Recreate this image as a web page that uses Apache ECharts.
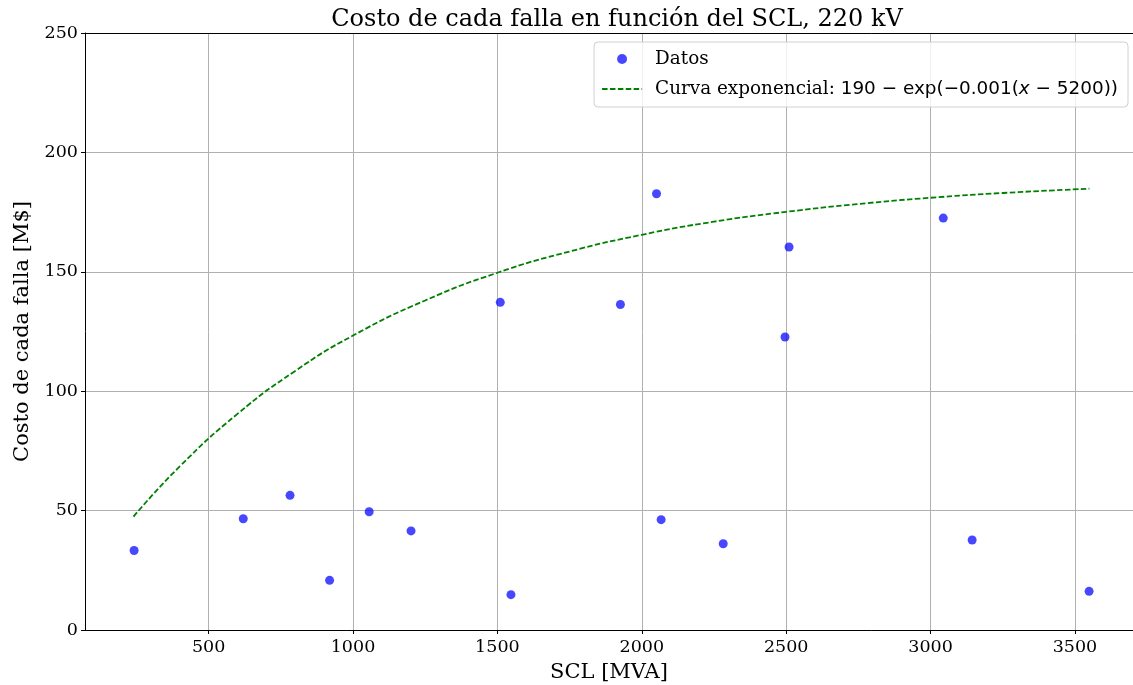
<!DOCTYPE html>
<html>
<head>
<meta charset="utf-8">
<script src="https://cdn.jsdelivr.net/npm/echarts@6/dist/echarts.min.js"></script>
<style>
    html, body { margin: 0; padding: 0; background: #fff; }
    #chart { width: 1133px; height: 685px; }
</style>
</head>
<body>
<div id="chart"></div>
<script>
// datos
var sclDatos = [242, 620, 782, 919, 1056, 1201, 1510, 1547, 1926, 2051, 2067, 2282, 2496, 2510, 3044, 3144, 3549];
var costoDatos = [33.3, 46.6, 56.4, 20.8, 49.5, 41.5, 137.2, 14.8, 136.3, 182.7, 46.2, 36.1, 122.7, 160.4, 172.5, 37.7, 16.2];

// puntos de la curva ajustada
var sclCurva = [240, 400, 600, 800, 1000, 1250, 1500, 1750, 2000, 2250, 2500, 2750, 3000, 3250, 3550];
var costoCurva = [47.5, 68.5, 90.5, 108.5, 123.3, 138.0, 149.6, 158.5, 165.5, 171.0, 175.1, 178.4, 181.0, 183.0, 184.8];

var xTicks = [500, 1000, 1500, 2000, 2500, 3000, 3500];
var yTicks = [0, 50, 100, 150, 200, 250];

var serif = 'DejaVu Serif';
var xMin = 72, xMax = 3701;
var chart = echarts.init(document.getElementById('chart'));

var option = {
    backgroundColor: '#fff',
    animation: false,
    title: {
        text: 'Costo de cada falla en función del SCL, 220 kV',
        left: 612,
        textAlign: 'center',
        top: 3,
        textStyle: { fontFamily: serif, fontSize: 24, fontWeight: 'normal', color: '#000' }
    },
    legend: {
        orient: 'vertical',
        right: 5,
        top: 42,
        padding: [8, 10, 9, 7],
        itemGap: 12,
        itemWidth: 40,
        itemHeight: 10,
        borderColor: '#d0d0d0',
        borderWidth: 1,
        borderRadius: 4,
        backgroundColor: 'rgba(255,255,255,0.8)',
        textStyle: {
            fontFamily: serif, fontSize: 18.4, color: '#000', padding: [0, 0, 0, 8],
            rich: {
                m: { fontFamily: 'DejaVu Sans', fontSize: 18.4, color: '#000' },
                i: { fontFamily: 'DejaVu Sans', fontStyle: 'italic', fontSize: 18.4, color: '#000' }
            }
        },
        formatter: function (name) {
            if (name === 'Datos') return 'Datos';
            return 'Curva exponencial: {m|190 − exp(−0.001(}{i|x}{m| − 5200))}';
        },
        data: [
            { name: 'Datos', icon: 'circle', itemStyle: { color: 'rgba(0,0,255,0.72)' } },
            { name: 'Curva', itemStyle: { opacity: 0 } }
        ]
    },
    grid: {
        left: 85, right: 0, top: 33, bottom: 55,
        outerBoundsMode: 'none'
    },
    xAxis: [
        {
            type: 'value',
            min: xMin, max: xMax,
            name: 'SCL [MVA]',
            nameLocation: 'middle',
            nameGap: 32,
            nameTextStyle: { fontFamily: serif, fontSize: 21, color: '#000' },
            axisLine: { show: true, lineStyle: { color: '#000', width: 1 } },
            axisTick: { show: true, length: 4, lineStyle: { color: '#000' }, customValues: xTicks },
            axisLabel: {
                fontFamily: serif, fontSize: 17.5, color: '#000', margin: 8,
                customValues: xTicks,
                formatter: function (v) { return String(v); }
            },
            splitLine: { show: true, lineStyle: { color: '#b0b0b0', width: 1 } }
        },
        {   // borde superior
            type: 'value',
            position: 'top',
            min: xMin, max: xMax,
            axisLine: { show: true, onZero: false, lineStyle: { color: '#000', width: 1 } },
            axisTick: { show: false },
            axisLabel: { show: false },
            splitLine: { show: false }
        }
    ],
    yAxis: {
        type: 'value',
        min: 0, max: 250,
        interval: 50,
        name: 'Costo de cada falla [M$]',
        nameLocation: 'middle',
        nameGap: 52,
        nameTextStyle: { fontFamily: serif, fontSize: 21, color: '#000' },
        axisLine: { show: true, lineStyle: { color: '#000', width: 1 } },
        axisTick: { show: true, length: 4, lineStyle: { color: '#000' } },
        axisLabel: { fontFamily: serif, fontSize: 17.5, color: '#000', margin: 7 },
        splitLine: { show: true, lineStyle: { color: '#b0b0b0', width: 1 } }
    },
    series: [
        {
            name: 'Datos',
            type: 'scatter',
            symbolSize: 9,
            itemStyle: { color: 'rgba(0,0,255,0.72)', opacity: 1 },
            data: sclDatos.map(function (x, i) { return [x, costoDatos[i]]; }),
            z: 3
        },
        {
            name: 'Curva',
            type: 'line',
            smooth: true,
            showSymbol: false,
            lineStyle: { color: '#008000', width: 1.8, type: [5.5, 2.4] },
            itemStyle: { color: '#008000' },
            data: sclCurva.map(function (x, i) { return [x, costoCurva[i]]; }),
            z: 2
        }
    ]
};

option && chart.setOption(option);
</script>
</body>
</html>
